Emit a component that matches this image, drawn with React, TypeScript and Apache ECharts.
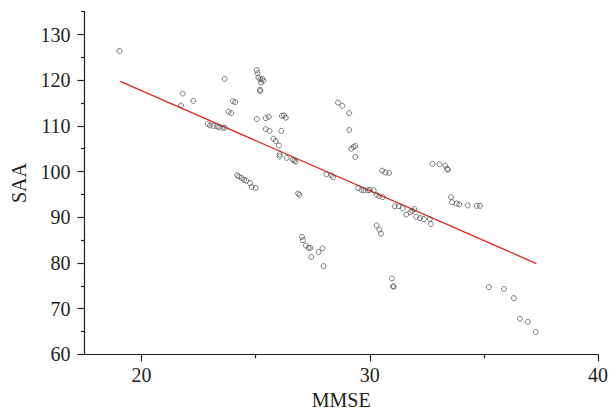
import React, { useEffect, useRef } from "react";
import * as echarts from "echarts";

const mmse = [
  19.03, 21.8, 21.73, 22.27,
  22.9, 23.0, 23.15, 23.3, 23.4, 23.55, 23.65,
  23.64, 23.81, 23.93, 24.0, 24.1,
  24.19, 24.27, 24.39, 24.49, 24.59, 24.75, 24.83, 25.0,
  25.05,
  25.05, 25.08, 25.12, 25.2, 25.29, 25.34, 25.24,
  25.19, 25.2,
  25.44, 25.58, 25.44, 25.61,
  25.78, 25.88, 26.02, 26.12, 26.05, 26.05,
  26.15, 26.24, 26.32,
  26.36, 26.63, 26.69, 26.75,
  26.86, 26.92,
  27.03, 27.07, 27.2, 27.32, 27.39, 27.44,
  27.76, 27.93, 27.98,
  28.1, 28.32, 28.39,
  28.61, 28.8, 29.1, 29.1,
  29.19, 29.29, 29.37, 29.37,
  29.5, 29.64, 29.75, 29.92, 30.0, 30.17,
  30.3, 30.42, 30.56,
  30.54, 30.68, 30.85,
  30.3, 30.42, 30.49,
  30.97, 31.02, 31.05,
  31.1, 31.27, 31.44,
  31.6, 31.78, 31.86, 31.95,
  32.03, 32.2, 32.37, 32.63, 32.68,
  32.75, 33.05, 33.31, 33.39, 33.42,
  33.56, 33.61, 33.81, 33.92, 34.29, 34.69, 34.83,
  35.22, 35.88, 36.31, 36.58, 36.92, 37.27,
];

const saa = [
  126.4, 117.1, 114.5, 115.5,
  110.4, 110.1, 110.0, 109.9, 109.7, 109.6, 109.6,
  120.3, 113.1, 112.8, 115.4, 115.2,
  99.2, 98.9, 98.6, 98.2, 98.0, 97.5, 96.6, 96.4,
  111.5,
  122.2, 121.5, 120.6, 120.2, 120.3, 119.9, 119.5,
  117.9, 117.6,
  111.7, 112.0, 109.3, 108.9,
  107.2, 106.7, 105.7, 108.9, 103.8, 103.3,
  112.2, 112.3, 111.8,
  103.0, 102.6, 102.4, 102.2,
  95.2, 94.9,
  85.7, 85.0, 83.8, 83.3, 83.3, 81.3,
  82.4, 83.2, 79.3,
  99.4, 99.2, 98.8,
  115.1, 114.4, 112.8, 109.1,
  105.0, 105.4, 105.6, 103.2,
  96.4, 96.0, 95.9, 95.9, 96.0, 95.9,
  94.9, 94.6, 94.4,
  100.2, 99.8, 99.7,
  88.2, 87.3, 86.4,
  76.6, 74.9, 74.8,
  92.4, 92.4, 92.0,
  90.6, 91.1, 91.4, 91.8,
  90.1, 89.8, 89.6, 89.6, 88.5,
  101.7, 101.6, 101.3, 100.6, 100.4,
  94.4, 93.3, 93.0, 92.8, 92.6, 92.5, 92.5,
  74.7, 74.3, 72.3, 67.8, 67.1, 64.9,
];

const fitX = [19.07, 37.3];
const fitY = [119.75, 79.87];

const xMajorTicks = [20, 30, 40];
const xMinorTicks = [25, 35];
const yMajorTicks = [60, 70, 80, 90, 100, 110, 120, 130];
const yMinorTicks = [65, 75, 85, 95, 105, 115, 125, 135];

const FONT = "Liberation Serif";
const INK = "#231f20";

export default function App() {
  const ref = useRef<HTMLDivElement>(null);
  useEffect(() => {
    if (!ref.current) return;
    const chart = echarts.init(ref.current, undefined, { renderer: "svg" });
    const xBase = { type: "value", min: 17.5, max: 40, splitLine: { show: false }, position: "bottom" };
    const yBase = { type: "value", min: 60, max: 135, splitLine: { show: false }, position: "left" };
    chart.setOption({
      animation: false,
      backgroundColor: "#ffffff",
      grid: { left: 84.5, right: 9.3, top: 11.7, bottom: 61.7, containLabel: false },
      xAxis: [
        {
          ...xBase,
          name: "MMSE",
          nameLocation: "middle",
          nameGap: 36,
          nameTextStyle: { fontFamily: FONT, fontSize: 20, color: INK },
          axisLine: { show: true, lineStyle: { color: INK, width: 1.2 } },
          axisTick: { show: true, length: 7, customValues: xMajorTicks, lineStyle: { color: INK, width: 1.2 } },
          axisLabel: { show: true, customValues: xMajorTicks, margin: 11, fontFamily: FONT, fontSize: 20, color: INK },
        },
        {
          ...xBase,
          axisLine: { show: false },
          axisTick: { show: true, length: 4, customValues: xMinorTicks, lineStyle: { color: INK, width: 1.2 } },
          axisLabel: { show: false },
        },
      ],
      yAxis: [
        {
          ...yBase,
          name: "SAA",
          nameLocation: "middle",
          nameGap: 56,
          nameTextStyle: { fontFamily: FONT, fontSize: 20, color: INK },
          axisLine: { show: true, lineStyle: { color: INK, width: 1.2 } },
          axisTick: { show: true, length: 7, customValues: yMajorTicks, lineStyle: { color: INK, width: 1.2 } },
          axisLabel: { show: true, customValues: yMajorTicks, margin: 14, fontFamily: FONT, fontSize: 20, color: INK },
        },
        {
          ...yBase,
          axisLine: { show: false },
          axisTick: { show: true, length: 3.5, customValues: yMinorTicks, lineStyle: { color: INK, width: 1.2 } },
          axisLabel: { show: false },
        },
      ],
      series: [
        {
          type: "scatter",
          xAxisIndex: 0,
          yAxisIndex: 0,
          symbol: "circle",
          symbolSize: 5,
          itemStyle: { color: "rgba(255,255,255,0)", borderColor: "#4a4a4a", borderWidth: 0.9 },
          data: mmse.map((x, i) => [x, saa[i]]),
          z: 3,
        },
        {
          type: "line",
          xAxisIndex: 0,
          yAxisIndex: 0,
          symbol: "none",
          lineStyle: { color: "#e8241c", width: 1.3 },
          data: fitX.map((x, i) => [x, fitY[i]]),
          z: 2,
        },
      ],
    });
    return () => chart.dispose();
  }, []);
  return (
    <div
      ref={ref}
      style={{ position: "absolute", left: 0, top: 0, width: 611, height: 416 }}
    />
  );
}
